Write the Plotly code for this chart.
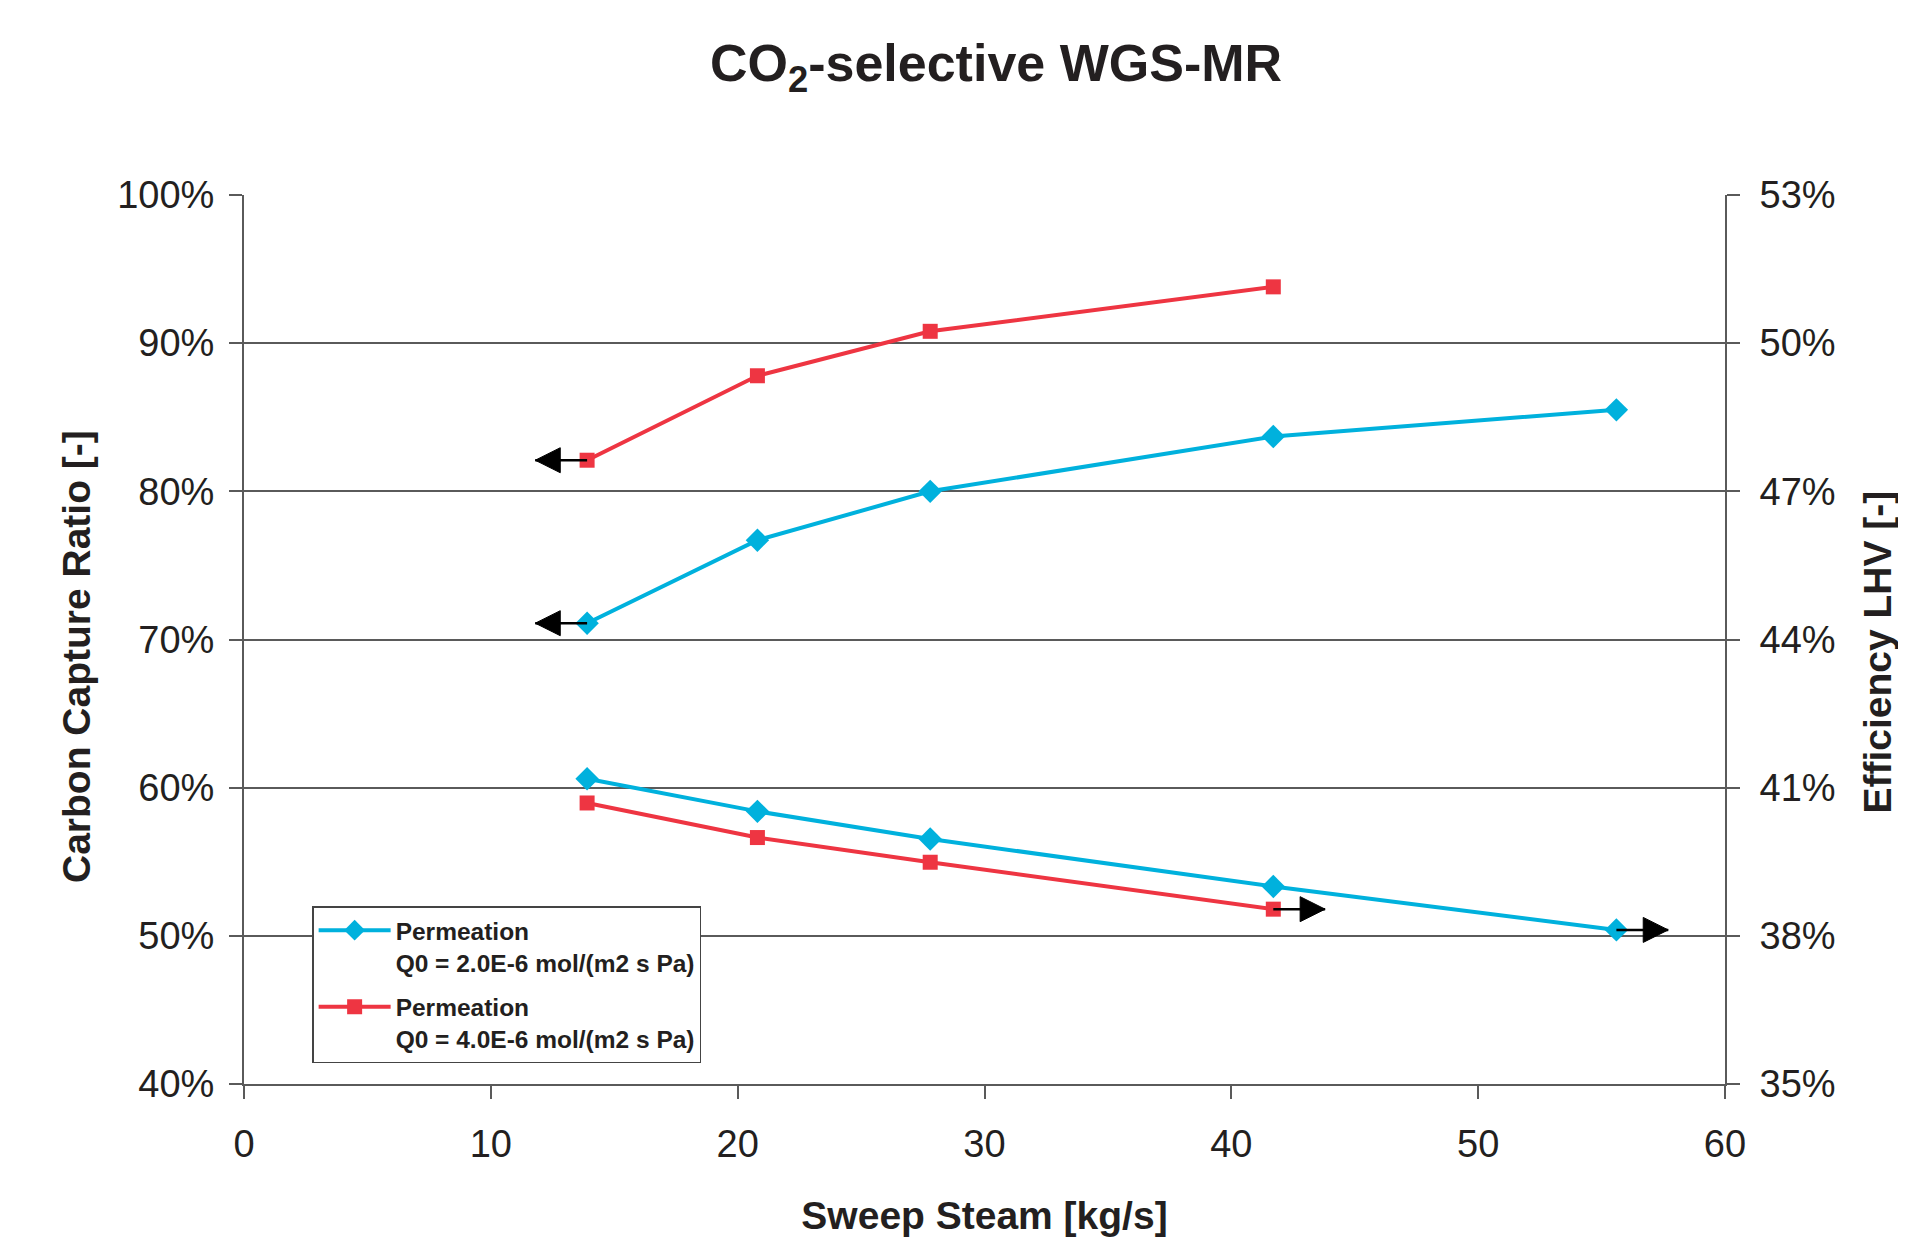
import plotly.graph_objects as go

# ---- data ----
sweep_steam = [13.9, 20.8, 27.8, 41.7, 55.6]          # kg/s
capture_q2 = [71.1, 76.7, 80.0, 83.7, 85.5]           # % (left axis)
capture_q4 = [82.1, 87.8, 90.8, 93.8]                 # %
eff_q2 = [41.18, 40.52, 39.96, 39.00, 38.12]          # % LHV (right axis)
eff_q4 = [40.69, 39.99, 39.49, 38.54]                 # %
legend_q2 = "Permeation<br>Q0 = 2.0E-6 mol/(m2 s Pa)"
legend_q4 = "Permeation<br>Q0 = 4.0E-6 mol/(m2 s Pa)"
left_title = "<b>Carbon Capture Ratio [-]</b>"
right_title = "<b>Efficiency LHV [-]</b>"

BLUE = "#00b1dd"
RED = "#ee3542"
TXT = "#231f20"
GRID = "#5a5a5a"
FONT = "Arial, Liberation Sans, sans-serif"

fig = go.Figure()

def add_series(x, cap, eff, name, color, symbol, msize, group):
    fig.add_trace(go.Scatter(
        x=x[:len(cap)], y=cap, name=name, legendgroup=group,
        mode="lines+markers", line=dict(color=color, width=4),
        marker=dict(symbol=symbol, size=msize, color=color), yaxis="y"))
    fig.add_trace(go.Scatter(
        x=x[:len(eff)], y=eff, name=name, legendgroup=group, showlegend=False,
        mode="lines+markers", line=dict(color=color, width=4),
        marker=dict(symbol=symbol, size=msize, color=color), yaxis="y2"))

add_series(sweep_steam, capture_q2, eff_q2, legend_q2, BLUE, "diamond", 18, "q2")
add_series(sweep_steam, capture_q4, eff_q4, legend_q4, RED, "square", 15, "q4")

# arrows indicating which axis each curve belongs to
ARROW_DX = 2.1
def add_arrow(x0, y0, direction, axis):
    x1 = x0 + direction * ARROW_DX
    fig.add_trace(go.Scatter(
        x=[x0, x1], y=[y0, y0], yaxis=axis, mode="lines+markers",
        line=dict(color="#000000", width=2.5),
        marker=dict(size=[0, 25], color="#000000", opacity=1,
                    line=dict(width=1, color="#000000"),
                    symbol="arrow-left" if direction < 0 else "arrow-right"),
        showlegend=False, hoverinfo="skip"))

for cap in (capture_q2, capture_q4):
    add_arrow(sweep_steam[0], cap[0], -1, "y")
for eff in (eff_q2, eff_q4):
    add_arrow(sweep_steam[len(eff) - 1], eff[-1], 1, "y2")

axis_titles = [
    dict(text=left_title, x=-0.113, y=0.481, textangle=-90),
    dict(text=right_title, x=1.1033, y=0.4864, textangle=-90),
]
annotations = [dict(xref="paper", yref="paper", xanchor="center", yanchor="middle",
                    showarrow=False, font=dict(size=39, color=TXT, family=FONT), **a)
               for a in axis_titles]

W, H = 1906, 1242
fig.update_layout(
    width=W, height=H,
    margin=dict(l=236, r=189, t=187, b=166),
    paper_bgcolor="white", plot_bgcolor="white",
    font=dict(family=FONT, color=TXT, size=38),
    title=dict(text="<b>CO<sub>2</sub>-selective WGS-MR</b>",
               font=dict(size=52, family=FONT, color=TXT),
               x=(996 - 8) / W, xref="container", xanchor="center",
               y=1 - (63 - 8) / H, yref="container", yanchor="middle"),
    xaxis=dict(range=[0, 60], dtick=10, showgrid=False, zeroline=False,
               showline=True, linecolor=GRID, linewidth=2,
               ticks="outside", ticklen=13, tickwidth=2, tickcolor=GRID,
               ticklabelstandoff=12,
               tickfont=dict(size=38, color=TXT),
               title=dict(text="<b>Sweep Steam [kg/s]</b>", font=dict(size=39, color=TXT), standoff=38)),
    yaxis=dict(range=[40, 100], dtick=10, ticksuffix="%", showgrid=True,
               gridcolor=GRID, gridwidth=2, zeroline=False,
               showline=True, linecolor=GRID, linewidth=2,
               ticks="outside", ticklen=13, tickwidth=2, tickcolor=GRID,
               ticklabelstandoff=7,
               tickfont=dict(size=38, color=TXT)),
    yaxis2=dict(range=[35, 53], tick0=35, dtick=3, ticksuffix="%", overlaying="y", side="right",
                showgrid=False, zeroline=False,
                showline=True, linecolor=GRID, linewidth=2,
                ticks="outside", ticklen=13, tickwidth=2, tickcolor=GRID,
                ticklabelstandoff=12,
                tickfont=dict(size=38, color=TXT)),
    legend=dict(x=0.046, y=0.2, xanchor="left", yanchor="top",
                bgcolor="white", bordercolor="#444444", borderwidth=1.5,
                font=dict(size=24.5, color=TXT, weight="bold"),
                valign="top", tracegroupgap=10, itemwidth=72),
    annotations=annotations,
    showlegend=True,
)

fig.write_html("out.html")
